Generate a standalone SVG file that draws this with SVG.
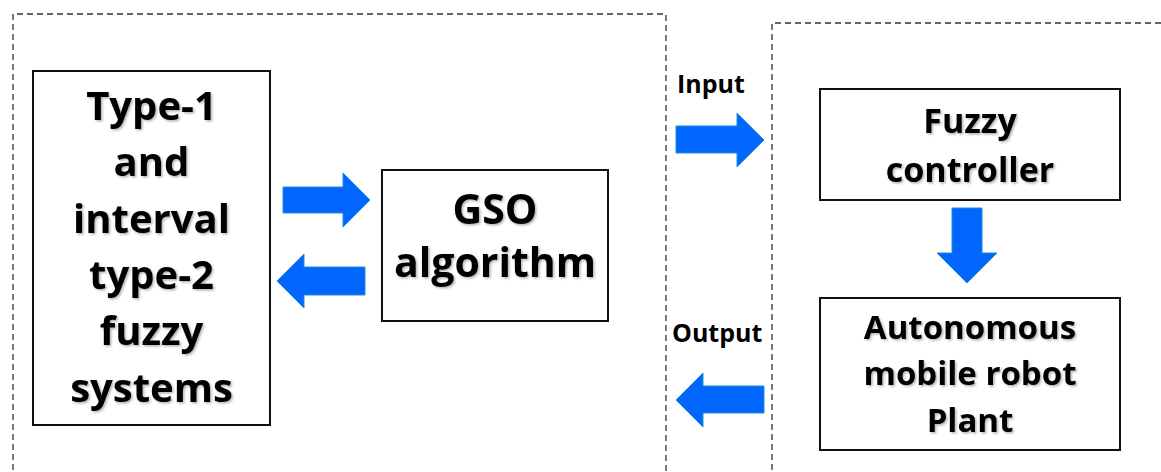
<svg xmlns="http://www.w3.org/2000/svg" width="1161" height="472" viewBox="0 0 1161 472">
<style>
.bg{fill:#ffffff}
.dash{fill:none;stroke:#333;stroke-width:1.3;stroke-dasharray:6 4}
.box{fill:#ffffff;stroke:#111;stroke-width:2}
.t{font-family:"Open Sans","Liberation Sans",sans-serif;font-weight:bold;fill:#000;text-anchor:middle;filter:url(#sh)}
.lbl{font-family:"Open Sans","Liberation Sans",sans-serif;font-weight:bold;fill:#000;font-size:25px}
.arr{fill:#0066ff;stroke:#1f8fd0;stroke-width:1}
</style>
<defs>
<filter id="sh" x="-10%" y="-20%" width="120%" height="140%">
<feDropShadow dx="1.5" dy="1.5" stdDeviation="1" flood-color="#000" flood-opacity="0.3"/>
</filter>
</defs>
<rect class="bg" x="0" y="0" width="1161" height="472"/>
<g id="regions">
<path class="dash" d="M13,480 V14 H666 V480"/>
<path class="dash" d="M772,480 V23 H1170"/>
</g>
<g id="node-type">
<rect class="box" x="33" y="71" width="237" height="354"/>
<text class="t" font-size="40" x="151.5"><tspan x="151.5" y="120">Type-1</tspan><tspan x="151.5" y="176">and</tspan><tspan x="151.5" y="233">interval</tspan><tspan x="151.5" y="289">type-2</tspan><tspan x="151.5" y="345">fuzzy</tspan><tspan x="151.5" y="402">systems</tspan></text>
</g>
<g id="node-gso">
<rect class="box" x="382" y="170" width="226" height="151"/>
<text class="t" font-size="41" x="495"><tspan x="495" y="224">GSO</tspan><tspan x="495" y="277">algorithm</tspan></text>
</g>
<g id="node-fuzzy">
<rect class="box" x="820" y="89" width="300" height="111"/>
<text class="t" font-size="34" x="970"><tspan x="970" y="133">Fuzzy</tspan><tspan x="970" y="182">controller</tspan></text>
</g>
<g id="node-plant">
<rect class="box" x="820" y="298" width="300" height="152"/>
<text class="t" font-size="33" x="970"><tspan x="970" y="339">Autonomous</tspan><tspan x="970" y="385">mobile robot</tspan><tspan x="970" y="432">Plant</tspan></text>
</g>
<g id="connectors">
<polygon class="arr" points="283,187 343,187 343,173 370,200 343,227 343,213 283,213"/>
<polygon class="arr" points="365,267 304,267 304,254 277,281 304,308 304,295 365,295"/>
<polygon class="arr" points="676,126 737,126 737,113 764,140 737,167 737,153 676,153"/>
<polygon class="arr" points="952,208 982,208 982,253 997,253 967,283 937,253 952,253"/>
<polygon class="arr" points="764,386 703,386 703,373 676,400 703,427 703,413 764,413"/>
<text class="lbl" x="677" y="93">Input</text>
<text class="lbl" x="672" y="342">Output</text>
</g>
</svg>
